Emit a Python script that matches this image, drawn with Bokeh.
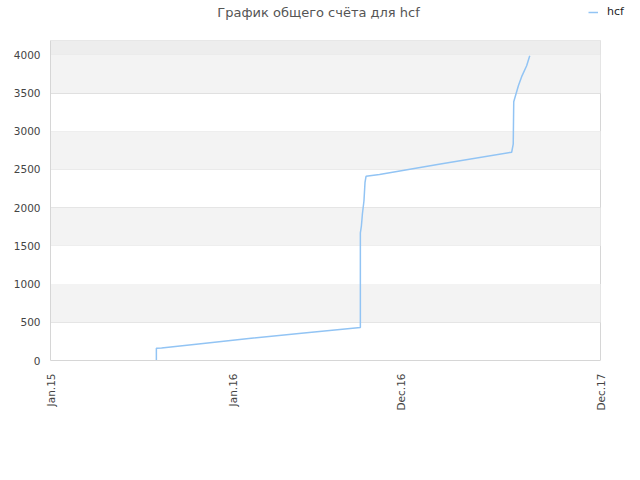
import math
import pandas as pd
from bokeh.plotting import figure
from bokeh.models import Range1d, FixedTicker, BoxAnnotation, Legend, LegendItem, Label, Grid
from bokeh.embed import file_html
from bokeh.resources import INLINE

# ---- data ----
player = "hcf"
title_text = "График общего счёта для hcf"
dates = ["2015-07-25", "2015-07-25", "2015-08-04", "2015-10-28", "2016-01-20",
         "2016-05-01", "2016-08-23", "2016-08-23", "2016-08-25", "2016-08-27",
         "2016-08-30", "2016-09-01", "2016-09-03", "2016-09-29", "2017-01-25",
         "2017-06-12", "2017-06-15", "2017-06-16", "2017-06-25", "2017-07-02",
         "2017-07-11", "2017-07-17"]
scores = [0, 161, 165, 226, 287, 355, 433, 1670, 1760, 1920, 2090, 2330, 2410,
          2435, 2572, 2725, 2830, 3386, 3595, 3725, 3856, 3987]
tick_dates = ["2015-01-01", "2015-12-21", "2016-11-10", "2017-12-01"]
tick_labels = ["Jan.15", "Jan.16", "Dec.16", "Dec.17"]
y_ticks = [0, 500, 1000, 1500, 2000, 2500, 3000, 3500, 4000]
y_max = 4187

origin = pd.Timestamp(tick_dates[0])
xs = [(pd.Timestamp(d) - origin).days for d in dates]
tx = [(pd.Timestamp(d) - origin).days for d in tick_dates]

FONT = "DejaVu Sans"

# layout (pixels): plot area 550x320 at (50, 40); frame widened to the canvas
# top/right so the legend and title (drawn in the frame) are not clipped
AREA_W, AREA_H = 550, 320
FRAME_W, FRAME_H = 590, 360
x0, x1 = tx[0], tx[-1]
x_end = x0 + (x1 - x0) * FRAME_W / AREA_W
y_top = y_max * FRAME_H / AREA_H


def px_to_x(px):  # horizontal pixel offset from plot-area left -> data
    return x0 + (x1 - x0) * px / AREA_W


def px_to_y(py):  # pixel offset above plot-area bottom -> data
    return y_max * py / AREA_H


p = figure(width=640, height=472, output_backend="svg", toolbar_location=None,
           x_range=Range1d(x0, x_end), y_range=Range1d(0, y_top),
           min_border_left=50, min_border_right=0, min_border_top=0,
           min_border_bottom=112)
p.background_fill_color = "white"
p.border_fill_color = "white"
p.outline_line_color = None
p.title.text = ""

# horizontal bands
for i in range(len(y_ticks) - 1):
    if i % 2 == 1:
        p.add_layout(BoxAnnotation(left=x0, right=x1, bottom=y_ticks[i], top=y_ticks[i + 1],
                                   fill_color="#f3f3f3", fill_alpha=1.0, line_color=None,
                                   level="underlay"))
p.add_layout(BoxAnnotation(left=x0, right=x1, bottom=y_ticks[-1], top=y_max,
                           fill_color="#ededed", fill_alpha=1.0, line_color=None,
                           level="underlay"))

# grid lines limited to the plot area (plus top and right border)
has_cross = "cross_bounds" in Grid.properties()
if has_cross:
    p.ygrid.ticker = FixedTicker(ticks=y_ticks[1:] + [y_max])
    p.ygrid.cross_bounds = (x0, x1)
    p.ygrid.grid_line_color = "#e0e0e0"
    p.xgrid.ticker = FixedTicker(ticks=[x1])
    p.xgrid.cross_bounds = (0, y_max)
    p.xgrid.grid_line_color = "#d6d6d6"
else:
    p.xgrid.grid_line_color = None
    p.ygrid.grid_line_color = None
    gy = y_ticks[1:] + [y_max]
    p.segment(x0=[x0] * len(gy), x1=[x1] * len(gy), y0=gy, y1=gy,
              line_color="#d4d4d4", line_width=1, level="underlay")
    p.segment(x0=[x1], x1=[x1], y0=[0], y1=[y_max], line_color="#cccccc",
              line_width=1, level="underlay")

# axes
p.yaxis.ticker = FixedTicker(ticks=y_ticks)
p.xaxis.ticker = FixedTicker(ticks=tx)
p.xaxis.major_label_overrides = {t: l for t, l in zip(tx, tick_labels)}
p.xaxis.major_label_orientation = math.pi / 2
p.yaxis.bounds = (0, y_max)
p.xaxis.bounds = (x0, x1)
for ax in (p.xaxis, p.yaxis):
    ax.axis_line_color = "#d6d6d6"
    ax.major_tick_line_color = None
    ax.minor_tick_line_color = None
    ax.major_tick_out = 0
    ax.major_tick_in = 0
    ax.major_label_text_font = FONT
    ax.major_label_text_font_size = "10.5px"
    ax.major_label_text_color = "#444444"
p.yaxis.major_label_standoff = 10
p.xaxis.major_label_standoff = 13

r = p.line(xs, scores, line_color="#92c4f4", line_width=1.5)

# title
p.add_layout(Label(x=px_to_x(268), y=px_to_y(348), text=title_text,
                   text_align="center", text_baseline="middle",
                   text_font=FONT, text_font_size="13px", text_color="#555555"))

legend = Legend(items=[LegendItem(label=player, renderers=[r])],
                location=(538, 342), orientation="horizontal",
                padding=0, margin=0, spacing=0, glyph_width=10, glyph_height=12,
                label_standoff=9, border_line_color=None,
                background_fill_alpha=0, label_text_font=FONT,
                label_text_font_size="11px", label_text_color="#222222")
p.add_layout(legend, "center")

open("out.html", "w").write(file_html(p, INLINE))
